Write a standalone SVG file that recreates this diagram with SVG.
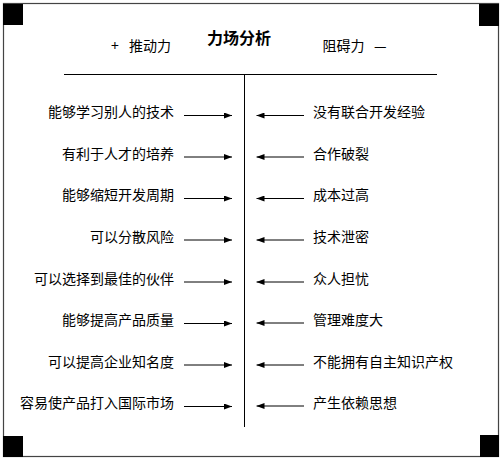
<svg xmlns="http://www.w3.org/2000/svg" width="502" height="461" viewBox="0 0 502 461">
<defs>
<style>
text{font-family:"Noto Sans CJK SC","Noto Sans",sans-serif;font-size:14px;fill:#000}
.l{text-anchor:end}
.t{font-size:16px;font-weight:bold}
.ln{stroke:#000;stroke-width:1;fill:none}
.ar{stroke:#000;stroke-width:1;fill:none;marker-end:url(#ah)}
.sq{fill:#000}
</style>
<marker id="ah" markerUnits="userSpaceOnUse" viewBox="0 0 8 6" refX="8" refY="3" markerWidth="8" markerHeight="6" orient="auto">
<path d="M0,0 L8,3 L0,6 Z" fill="#000"/>
</marker>
</defs>
<rect width="502" height="461" fill="#fff"/>
<g id="frame">
<rect x="3.5" y="3.5" width="495" height="453" fill="none" stroke="#444" stroke-width="1.2"/>
<rect class="sq" x="3" y="4" width="20" height="21"/>
<rect class="sq" x="479" y="4" width="20" height="22"/>
<rect class="sq" x="3" y="436" width="20" height="21"/>
<rect class="sq" x="480" y="435" width="19" height="22"/>
</g>
<g id="header">
<text class="t" x="207" y="44">力场分析</text>
<text x="111" y="51">+<tspan x="129">推动力</tspan></text>
<text x="322.5" y="51">阻碍力<tspan x="374">—</tspan></text>
</g>
<g id="axes">
<line class="ln" x1="64" y1="74.5" x2="437" y2="74.5"/>
<line class="ln" x1="244.5" y1="74" x2="244.5" y2="427"/>
</g>
<g id="connectors">
<line class="ar" x1="184" y1="115.5" x2="232" y2="115.5"/>
<line class="ar" x1="184" y1="157" x2="232" y2="157"/>
<line class="ar" x1="184" y1="198.5" x2="232" y2="198.5"/>
<line class="ar" x1="184" y1="240" x2="232" y2="240"/>
<line class="ar" x1="184" y1="282" x2="232" y2="282"/>
<line class="ar" x1="184" y1="323.5" x2="232" y2="323.5"/>
<line class="ar" x1="184" y1="365" x2="232" y2="365"/>
<line class="ar" x1="184" y1="406.5" x2="232" y2="406.5"/>
<line class="ar" x1="304" y1="115.5" x2="256.5" y2="115.5"/>
<line class="ar" x1="304" y1="157" x2="256.5" y2="157"/>
<line class="ar" x1="304" y1="198.5" x2="256.5" y2="198.5"/>
<line class="ar" x1="304" y1="240" x2="256.5" y2="240"/>
<line class="ar" x1="304" y1="282" x2="256.5" y2="282"/>
<line class="ar" x1="304" y1="323" x2="256.5" y2="323"/>
<line class="ar" x1="304" y1="365" x2="256.5" y2="365"/>
<line class="ar" x1="304" y1="406" x2="256.5" y2="406"/>
</g>
<g id="drivers">
<text class="l" x="174" y="117">能够学习别人的技术</text>
<text class="l" x="174" y="158.5">有利于人才的培养</text>
<text class="l" x="174" y="200">能够缩短开发周期</text>
<text class="l" x="174" y="241.5">可以分散风险</text>
<text class="l" x="174" y="283.5">可以选择到最佳的伙伴</text>
<text class="l" x="174" y="325">能够提高产品质量</text>
<text class="l" x="174" y="366.5">可以提高企业知名度</text>
<text class="l" x="174" y="408">容易使产品打入国际市场</text>
</g>
<g id="restrainers">
<text x="313" y="117">没有联合开发经验</text>
<text x="313" y="158.5">合作破裂</text>
<text x="313" y="200">成本过高</text>
<text x="313" y="241.5">技术泄密</text>
<text x="313" y="283.5">众人担忧</text>
<text x="313" y="325">管理难度大</text>
<text x="313" y="366.5">不能拥有自主知识产权</text>
<text x="313" y="408">产生依赖思想</text>
</g>
</svg>
